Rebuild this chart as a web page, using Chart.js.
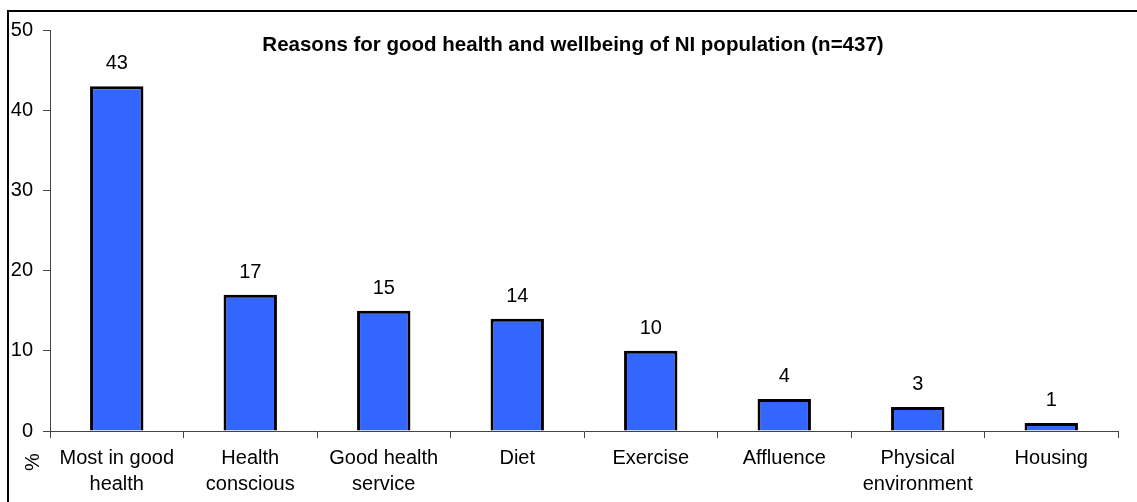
<!DOCTYPE html>
<html>
<head>
<meta charset="utf-8">
<script src="https://cdn.jsdelivr.net/npm/chart.js@4/dist/chart.umd.min.js"></script>
<style>
  html, body { margin: 0; padding: 0; background: #fff; }
  #chart { display: block; }
</style>
</head>
<body>
<canvas id="chart" width="1137" height="502"></canvas>
<script>
const categories = [
  ["Most in good", "health"],
  ["Health", "conscious"],
  ["Good health", "service"],
  ["Diet"],
  ["Exercise"],
  ["Affluence"],
  ["Physical", "environment"],
  ["Housing"]
];
const values = [43, 17, 15, 14, 10, 4, 3, 1];
const title_text = "Reasons for good health and wellbeing of NI population (n=437)";
const y_title = "%";

const font_family = "'Liberation Sans', Arial, sans-serif";

// frame, title, % label and value labels
const extras = {
  id: "extras",
  afterDraw(chart){
    const ctx = chart.ctx;
    ctx.save();

    // outer frame (top and left edge visible)
    ctx.strokeStyle = "#000";
    ctx.lineWidth = 2;
    ctx.beginPath();
    ctx.moveTo(8, 502);
    ctx.lineTo(8, 11);
    ctx.lineTo(1137, 11);
    ctx.stroke();

    // title
    ctx.fillStyle = "#000";
    ctx.font = "bold 20.5px " + font_family;
    ctx.textAlign = "center";
    ctx.textBaseline = "middle";
    ctx.fillText(title_text, 573, 45);

    // value labels
    ctx.font = "20px " + font_family;
    ctx.textBaseline = "alphabetic";
    const meta = chart.getDatasetMeta(0);
    meta.data.forEach((bar, i)=>{
      ctx.fillText(values[i], bar.x, bar.y - 17);
    });

    // % label
    ctx.translate(33, 462);
    ctx.rotate(-Math.PI/2);
    ctx.textBaseline = "middle";
    ctx.fillText(y_title, 0, 0);

    ctx.restore();
  }
};

new Chart(document.getElementById("chart"), {
  type: "bar",
  data: {
    labels: categories,
    datasets: [{
      data: values,
      backgroundColor: "#3366FF",
      borderColor: "#000",
      borderWidth: 3,
      barPercentage: 0.4,
      categoryPercentage: 1
    }]
  },
  options: {
    responsive: false,
    animation: false,
    events: [],
    layout: {
      padding: { left: 0, top: 30, right: 19, bottom: 0 }
    },
    plugins: {
      legend: { display: false },
      tooltip: { enabled: false },
      title: { display: false }
    },
    scales: {
      x: {
        afterFit: (axis)=>{ axis.height = 71; },
        grid: {
          drawOnChartArea: false,
          tickLength: 7,
          color: "#444"
        },
        border: { color: "#444", width: 1 },
        ticks: {
          maxRotation: 0,
          autoSkip: false,
          color: "#000",
          padding: 7,
          font: { family: font_family, size: 20, lineHeight: 1.3 }
        }
      },
      y: {
        min: 0,
        max: 50,
        afterFit: (axis)=>{ axis.width = 50; },
        grid: {
          drawOnChartArea: false,
          tickLength: 7,
          color: "#444"
        },
        border: { color: "#444", width: 1 },
        ticks: {
          stepSize: 10,
          color: "#000",
          padding: 10,
          font: { family: font_family, size: 20 }
        }
      }
    }
  },
  plugins: [extras]
});
</script>
</body>
</html>
